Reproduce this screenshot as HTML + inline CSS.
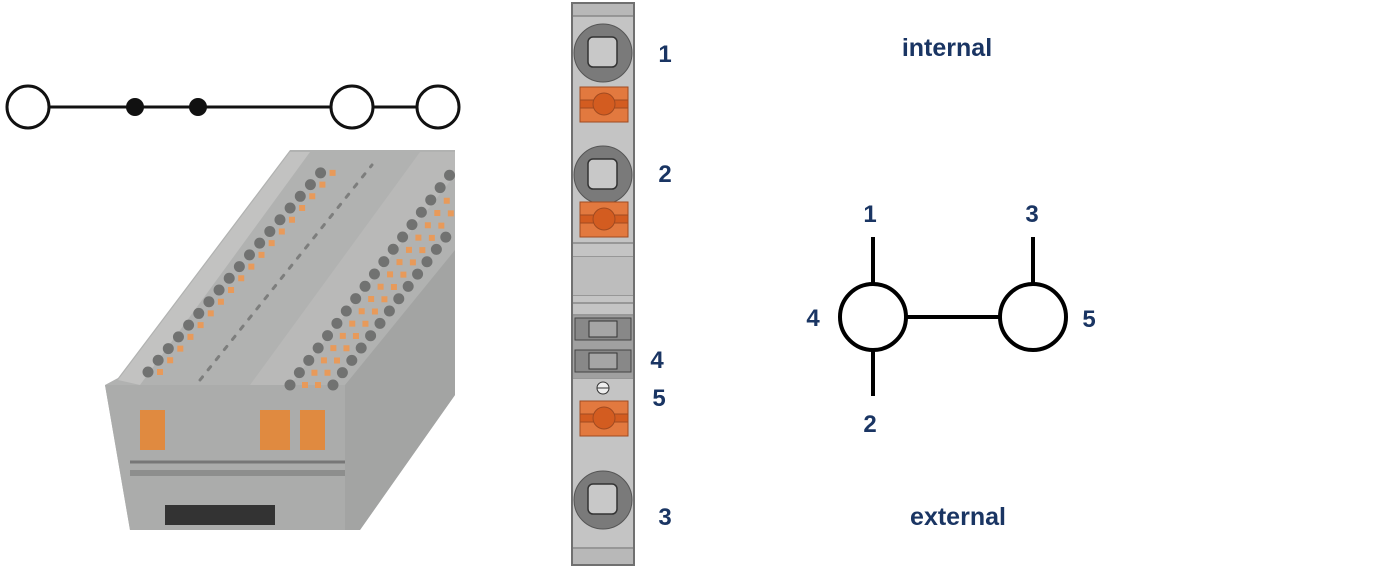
<!DOCTYPE html>
<html><head><meta charset="utf-8"><style>
html,body{margin:0;padding:0;background:#fff;}
svg{display:block}
text{font-family:"Liberation Sans",Arial,sans-serif;font-weight:bold;fill:#1a3563}
</style></head><body>
<svg width="1400" height="568" viewBox="0 0 1400 568" xmlns="http://www.w3.org/2000/svg">
<!-- top schematic -->
<g stroke="#111" stroke-width="3" fill="#fff">
<line x1="48" y1="107" x2="332" y2="107"/>
<line x1="372" y1="107" x2="418" y2="107"/>
<circle cx="28" cy="107" r="21"/>
<circle cx="352" cy="107" r="21"/>
<circle cx="438" cy="107" r="21"/>
</g>
<circle cx="135" cy="107" r="9" fill="#111"/>
<circle cx="198" cy="107" r="9" fill="#111"/>

<!-- photo approximation -->
<polygon points="290,150 455,150 455,395 360,530 130,530 105,385 118,378" fill="#b1b2b1"/>
<polygon points="118,380 290,152 310,152 140,385" fill="#c2c2c1"/>
<polygon points="250,385 420,152 455,152 455,175 290,385" fill="#b9b9b8"/>
<polygon points="105,385 345,385 345,530 130,530" fill="#abacab"/>
<polygon points="345,385 455,250 455,395 360,530 345,530" fill="#a3a4a3"/>
<g stroke-linecap="round" fill="none">
<line x1="148" y1="372" x2="330" y2="162" stroke="#717271" stroke-width="11" stroke-dasharray="0 15.5"/>
<line x1="160" y1="372" x2="342" y2="162" stroke="#e89a5a" stroke-width="6" stroke-dasharray="0 15.5" stroke-linecap="square"/>
<line x1="200" y1="380" x2="372" y2="165" stroke="#7d7e7d" stroke-width="3" stroke-dasharray="4 9"/>
<line x1="290" y1="385" x2="452" y2="172" stroke="#717271" stroke-width="11" stroke-dasharray="0 15.5"/>
<line x1="305" y1="385" x2="455" y2="190" stroke="#e89a5a" stroke-width="6" stroke-dasharray="0 15.5" stroke-linecap="square"/>
<line x1="333" y1="385" x2="455" y2="225" stroke="#717271" stroke-width="11" stroke-dasharray="0 15.5"/>
<line x1="318" y1="385" x2="455" y2="208" stroke="#e89a5a" stroke-width="6" stroke-dasharray="0 15.5" stroke-linecap="square"/>
</g>
<rect x="140" y="410" width="25" height="40" fill="#e08a40"/>
<rect x="260" y="410" width="30" height="40" fill="#e08a40"/>
<rect x="300" y="410" width="25" height="40" fill="#e08a40"/>
<line x1="130" y1="462" x2="345" y2="462" stroke="#777" stroke-width="3"/>
<rect x="165" y="505" width="110" height="20" fill="#333"/>
<rect x="130" y="470" width="215" height="6" fill="#8d8e8d"/>

<!-- middle strip -->
<rect x="572" y="3" width="62" height="562" fill="#c4c4c4" stroke="#707070" stroke-width="2"/>
<rect x="573" y="4" width="60" height="12" fill="#b8b8b8"/>
<line x1="573" y1="16" x2="633" y2="16" stroke="#888" stroke-width="1.5"/>
<g fill="#7a7a7a" stroke="#555" stroke-width="1">
<circle cx="603" cy="53" r="29"/><circle cx="603" cy="175" r="29"/><circle cx="603" cy="500" r="29"/>
</g>
<g fill="#c8c8c8" stroke="#333" stroke-width="1.5">
<rect x="588" y="37" width="29" height="30" rx="5"/>
<rect x="588" y="159" width="29" height="30" rx="5"/>
<rect x="588" y="484" width="29" height="30" rx="5"/>
</g>
<g>
<rect x="580" y="87" width="48" height="35" fill="#e2793f" stroke="#a04a20"/>
<rect x="580" y="202" width="48" height="35" fill="#e2793f" stroke="#a04a20"/>
<rect x="580" y="401" width="48" height="35" fill="#e2793f" stroke="#a04a20"/>
<g fill="#d35c20" stroke="#a04a20">
<rect x="580" y="100" width="48" height="8"/><circle cx="604" cy="104" r="11"/>
<rect x="580" y="215" width="48" height="8"/><circle cx="604" cy="219" r="11"/>
<rect x="580" y="414" width="48" height="8"/><circle cx="604" cy="418" r="11"/>
</g>
</g>
<g stroke="#888" stroke-width="1.5">
<line x1="573" y1="243" x2="633" y2="243"/><line x1="573" y1="257" x2="633" y2="257"/>
<line x1="573" y1="295" x2="633" y2="295"/><line x1="573" y1="303" x2="633" y2="303"/><line x1="573" y1="315" x2="633" y2="315"/>
<line x1="573" y1="378" x2="633" y2="378"/>
<line x1="573" y1="548" x2="633" y2="548"/>
</g>
<rect x="573" y="257" width="60" height="38" fill="#bdbdbd"/>
<rect x="573" y="316" width="60" height="62" fill="#a0a0a0"/>
<rect x="575" y="318" width="56" height="22" fill="#888" stroke="#444"/>
<rect x="589" y="321" width="28" height="16" fill="#a5a5a5" stroke="#333"/>
<rect x="575" y="350" width="56" height="22" fill="#888" stroke="#444"/>
<rect x="589" y="353" width="28" height="16" fill="#a5a5a5" stroke="#333"/>
<circle cx="603" cy="388" r="6" fill="#eee" stroke="#333"/>
<line x1="597" y1="388" x2="609" y2="388" stroke="#333"/>
<rect x="573" y="549" width="60" height="15" fill="#b8b8b8"/>

<g font-size="24">
<text x="665" y="62" text-anchor="middle">1</text>
<text x="665" y="182" text-anchor="middle">2</text>
<text x="657" y="368" text-anchor="middle">4</text>
<text x="659" y="406" text-anchor="middle">5</text>
<text x="665" y="525" text-anchor="middle">3</text>
</g>

<!-- right schematic -->
<g stroke="#000" stroke-width="4" fill="#fff">
<line x1="873" y1="237" x2="873" y2="284"/>
<line x1="873" y1="350" x2="873" y2="396"/>
<line x1="1033" y1="237" x2="1033" y2="284"/>
<line x1="906" y1="317" x2="1000" y2="317"/>
<circle cx="873" cy="317" r="33"/>
<circle cx="1033" cy="317" r="33"/>
</g>
<g font-size="24">
<text x="870" y="222" text-anchor="middle">1</text>
<text x="1032" y="222" text-anchor="middle">3</text>
<text x="813" y="326" text-anchor="middle">4</text>
<text x="1089" y="327" text-anchor="middle">5</text>
<text x="870" y="432" text-anchor="middle">2</text>
<text x="947" y="56" text-anchor="middle" font-size="25">internal</text>
<text x="958" y="525" text-anchor="middle" font-size="25">external</text>
</g>
</svg>
</body></html>
